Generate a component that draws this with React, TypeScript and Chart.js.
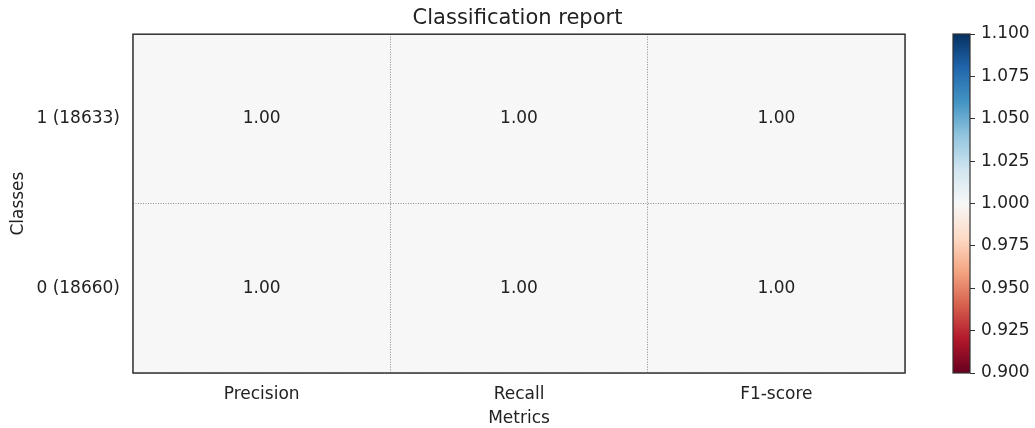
import React, { useEffect, useRef } from "react";
import { Chart, registerables } from "chart.js";

Chart.register(...registerables);

const metrics = ["Precision", "Recall", "F1-score"];
const classes = ["1 (18633)", "0 (18660)"];
const scores = [
  [1.0, 1.0, 1.0],
  [1.0, 1.0, 1.0],
];
const colorbarTicks = [0.9, 0.925, 0.95, 0.975, 1.0, 1.025, 1.05, 1.075, 1.1];
const vmin = 0.9;
const vmax = 1.1;

const rdbu = ["#67001f", "#b2182b", "#d6604d", "#f4a582", "#fddbc7", "#f7f7f7", "#d1e5f0", "#92c5de", "#4393c3", "#2166ac", "#053061"];

const FONT = "'DejaVu Sans', sans-serif";
const TXT = "#222";

function hexToRgb(h: string) {
  const n = parseInt(h.slice(1), 16);
  return [(n >> 16) & 255, (n >> 8) & 255, n & 255];
}
function cmap(t: number) {
  t = Math.max(0, Math.min(1, t));
  const p = t * (rdbu.length - 1);
  const i = Math.min(rdbu.length - 2, Math.floor(p));
  const f = p - i;
  const a = hexToRgb(rdbu[i]);
  const b = hexToRgb(rdbu[i + 1]);
  const c = a.map((v, k) => Math.round(v + (b[k] - v) * f));
  return `rgb(${c[0]},${c[1]},${c[2]})`;
}

const heatPlugin = {
  id: "heat",
  beforeDraw(chart: any) {
    const { ctx } = chart;
    const xs = chart.scales.x;
    const ys = chart.scales.y;
    ctx.save();
    scores.forEach((row, r) => {
      row.forEach((v, c) => {
        const x0 = xs.getPixelForValue(c - 0.5);
        const x1 = xs.getPixelForValue(c + 0.5);
        const y0 = ys.getPixelForValue(r - 0.5);
        const y1 = ys.getPixelForValue(r + 0.5);
        ctx.fillStyle = cmap((v - vmin) / (vmax - vmin));
        ctx.fillRect(Math.min(x0, x1), Math.min(y0, y1), Math.abs(x1 - x0), Math.abs(y1 - y0));
      });
    });
    ctx.restore();
  },
  afterDraw(chart: any) {
    const { ctx, chartArea: a } = chart;
    const xs = chart.scales.x;
    const ys = chart.scales.y;
    ctx.save();
    ctx.font = `17px ${FONT}`;
    ctx.fillStyle = TXT;
    ctx.textAlign = "center";
    ctx.textBaseline = "middle";
    scores.forEach((row, r) => {
      row.forEach((v, c) => {
        ctx.fillText(v.toFixed(2), xs.getPixelForValue(c), ys.getPixelForValue(r));
      });
    });
    ctx.strokeStyle = "#333";
    ctx.lineWidth = 1.5;
    ctx.strokeRect(a.left, a.top, a.right - a.left, a.bottom - a.top);
    ctx.restore();
  },
};

const colorbarPlugin = {
  id: "cbar",
  beforeDraw(chart: any) {
    const { ctx, chartArea: a } = chart;
    const ys = chart.scales.y;
    const yTop = ys.getPixelForValue(vmax);
    const yBot = ys.getPixelForValue(vmin);
    const g = ctx.createLinearGradient(0, yBot, 0, yTop);
    rdbu.forEach((c, i) => g.addColorStop(i / (rdbu.length - 1), c));
    ctx.save();
    ctx.fillStyle = g;
    ctx.fillRect(a.left, yTop, a.right - a.left, yBot - yTop);
    ctx.restore();
  },
  afterDraw(chart: any) {
    const { ctx, chartArea: a } = chart;
    ctx.save();
    ctx.strokeStyle = "#333";
    ctx.lineWidth = 1.2;
    ctx.strokeRect(a.left, a.top, a.right - a.left, a.bottom - a.top);
    ctx.restore();
  },
};

export default function App() {
  const mainRef = useRef<HTMLCanvasElement>(null);
  const cbRef = useRef<HTMLCanvasElement>(null);

  useEffect(() => {
    const main = new Chart(mainRef.current!, {
      type: "bar",
      data: { labels: metrics, datasets: [] },
      plugins: [heatPlugin],
      options: {
        animation: false,
        responsive: false,
        maintainAspectRatio: false,
        layout: { padding: { left: 0, right: 0, top: 0, bottom: 0 } },
        plugins: {
          legend: { display: false },
          tooltip: { enabled: false },
          title: {
            display: true,
            text: "Classification report",
            color: TXT,
            font: { family: FONT, size: 21, weight: "normal" },
            padding: { top: 6, bottom: 3 },
          },
        },
        scales: {
          x: {
            type: "category",
            labels: metrics,
            offset: true,
            grid: { offset: true, color: "#8a8a8a", lineWidth: 1, drawTicks: false },
            border: { display: false, dash: [1, 1.5] },
            ticks: { color: TXT, font: { family: FONT, size: 17 }, padding: 11 },
            title: {
              display: true,
              text: "Metrics",
              color: TXT,
              font: { family: FONT, size: 17, lineHeight: 1 },
              padding: { top: 0, bottom: 1 },
            },
            afterFit: (s: any) => {
              s.height = 55;
            },
          },
          y: {
            type: "category",
            labels: classes,
            offset: true,
            grid: { offset: true, color: "#8a8a8a", lineWidth: 1, drawTicks: false },
            border: { display: false, dash: [1, 1.5] },
            ticks: { color: TXT, font: { family: FONT, size: 17 }, padding: 13 },
            title: {
              display: true,
              text: "Classes",
              color: TXT,
              font: { family: FONT, size: 17 },
              padding: { top: 8, bottom: 0 },
            },
            afterFit: (s: any) => {
              s.width = 133;
            },
          },
          yr: {
            type: "category",
            labels: classes,
            position: "right",
            grid: { display: false, drawTicks: false },
            border: { display: false },
            ticks: { display: false },
            afterFit: (s: any) => {
              s.width = 130;
            },
          },
        },
      } as any,
    });

    const cb = new Chart(cbRef.current!, {
      type: "bar",
      data: { datasets: [] },
      plugins: [colorbarPlugin],
      options: {
        animation: false,
        responsive: false,
        maintainAspectRatio: false,
        layout: { padding: { left: 953, top: 34, bottom: 55, right: 0 } },
        plugins: { legend: { display: false }, tooltip: { enabled: false }, title: { display: false } },
        scales: {
          x: { display: false },
          y: {
            type: "linear",
            position: "right",
            min: vmin,
            max: vmax,
            afterBuildTicks: (s: any) => {
              s.ticks = colorbarTicks.map((v) => ({ value: v }));
            },
            ticks: {
              color: TXT,
              font: { family: FONT, size: 17 },
              padding: 6,
              callback: (v: any) => Number(v).toFixed(3),
            },
            grid: { drawOnChartArea: false, drawTicks: true, tickLength: 5, color: "#333", tickColor: "#333", lineWidth: 1 },
            border: { display: false },
            afterFit: (s: any) => {
              s.width = 65;
            },
          },
        },
      } as any,
    });

    return () => {
      main.destroy();
      cb.destroy();
    };
  }, []);

  return (
    <div style={{ position: "fixed", left: 0, top: 0, width: 1035, height: 428, background: "#fff" }}>
      <canvas ref={mainRef} width={1035} height={428} style={{ position: "absolute", left: 0, top: 0, width: 1035, height: 428 }} />
      <canvas
        ref={cbRef}
        width={1035}
        height={428}
        style={{ position: "absolute", left: 0, top: 0, width: 1035, height: 428, pointerEvents: "none" }}
      />
    </div>
  );
}
